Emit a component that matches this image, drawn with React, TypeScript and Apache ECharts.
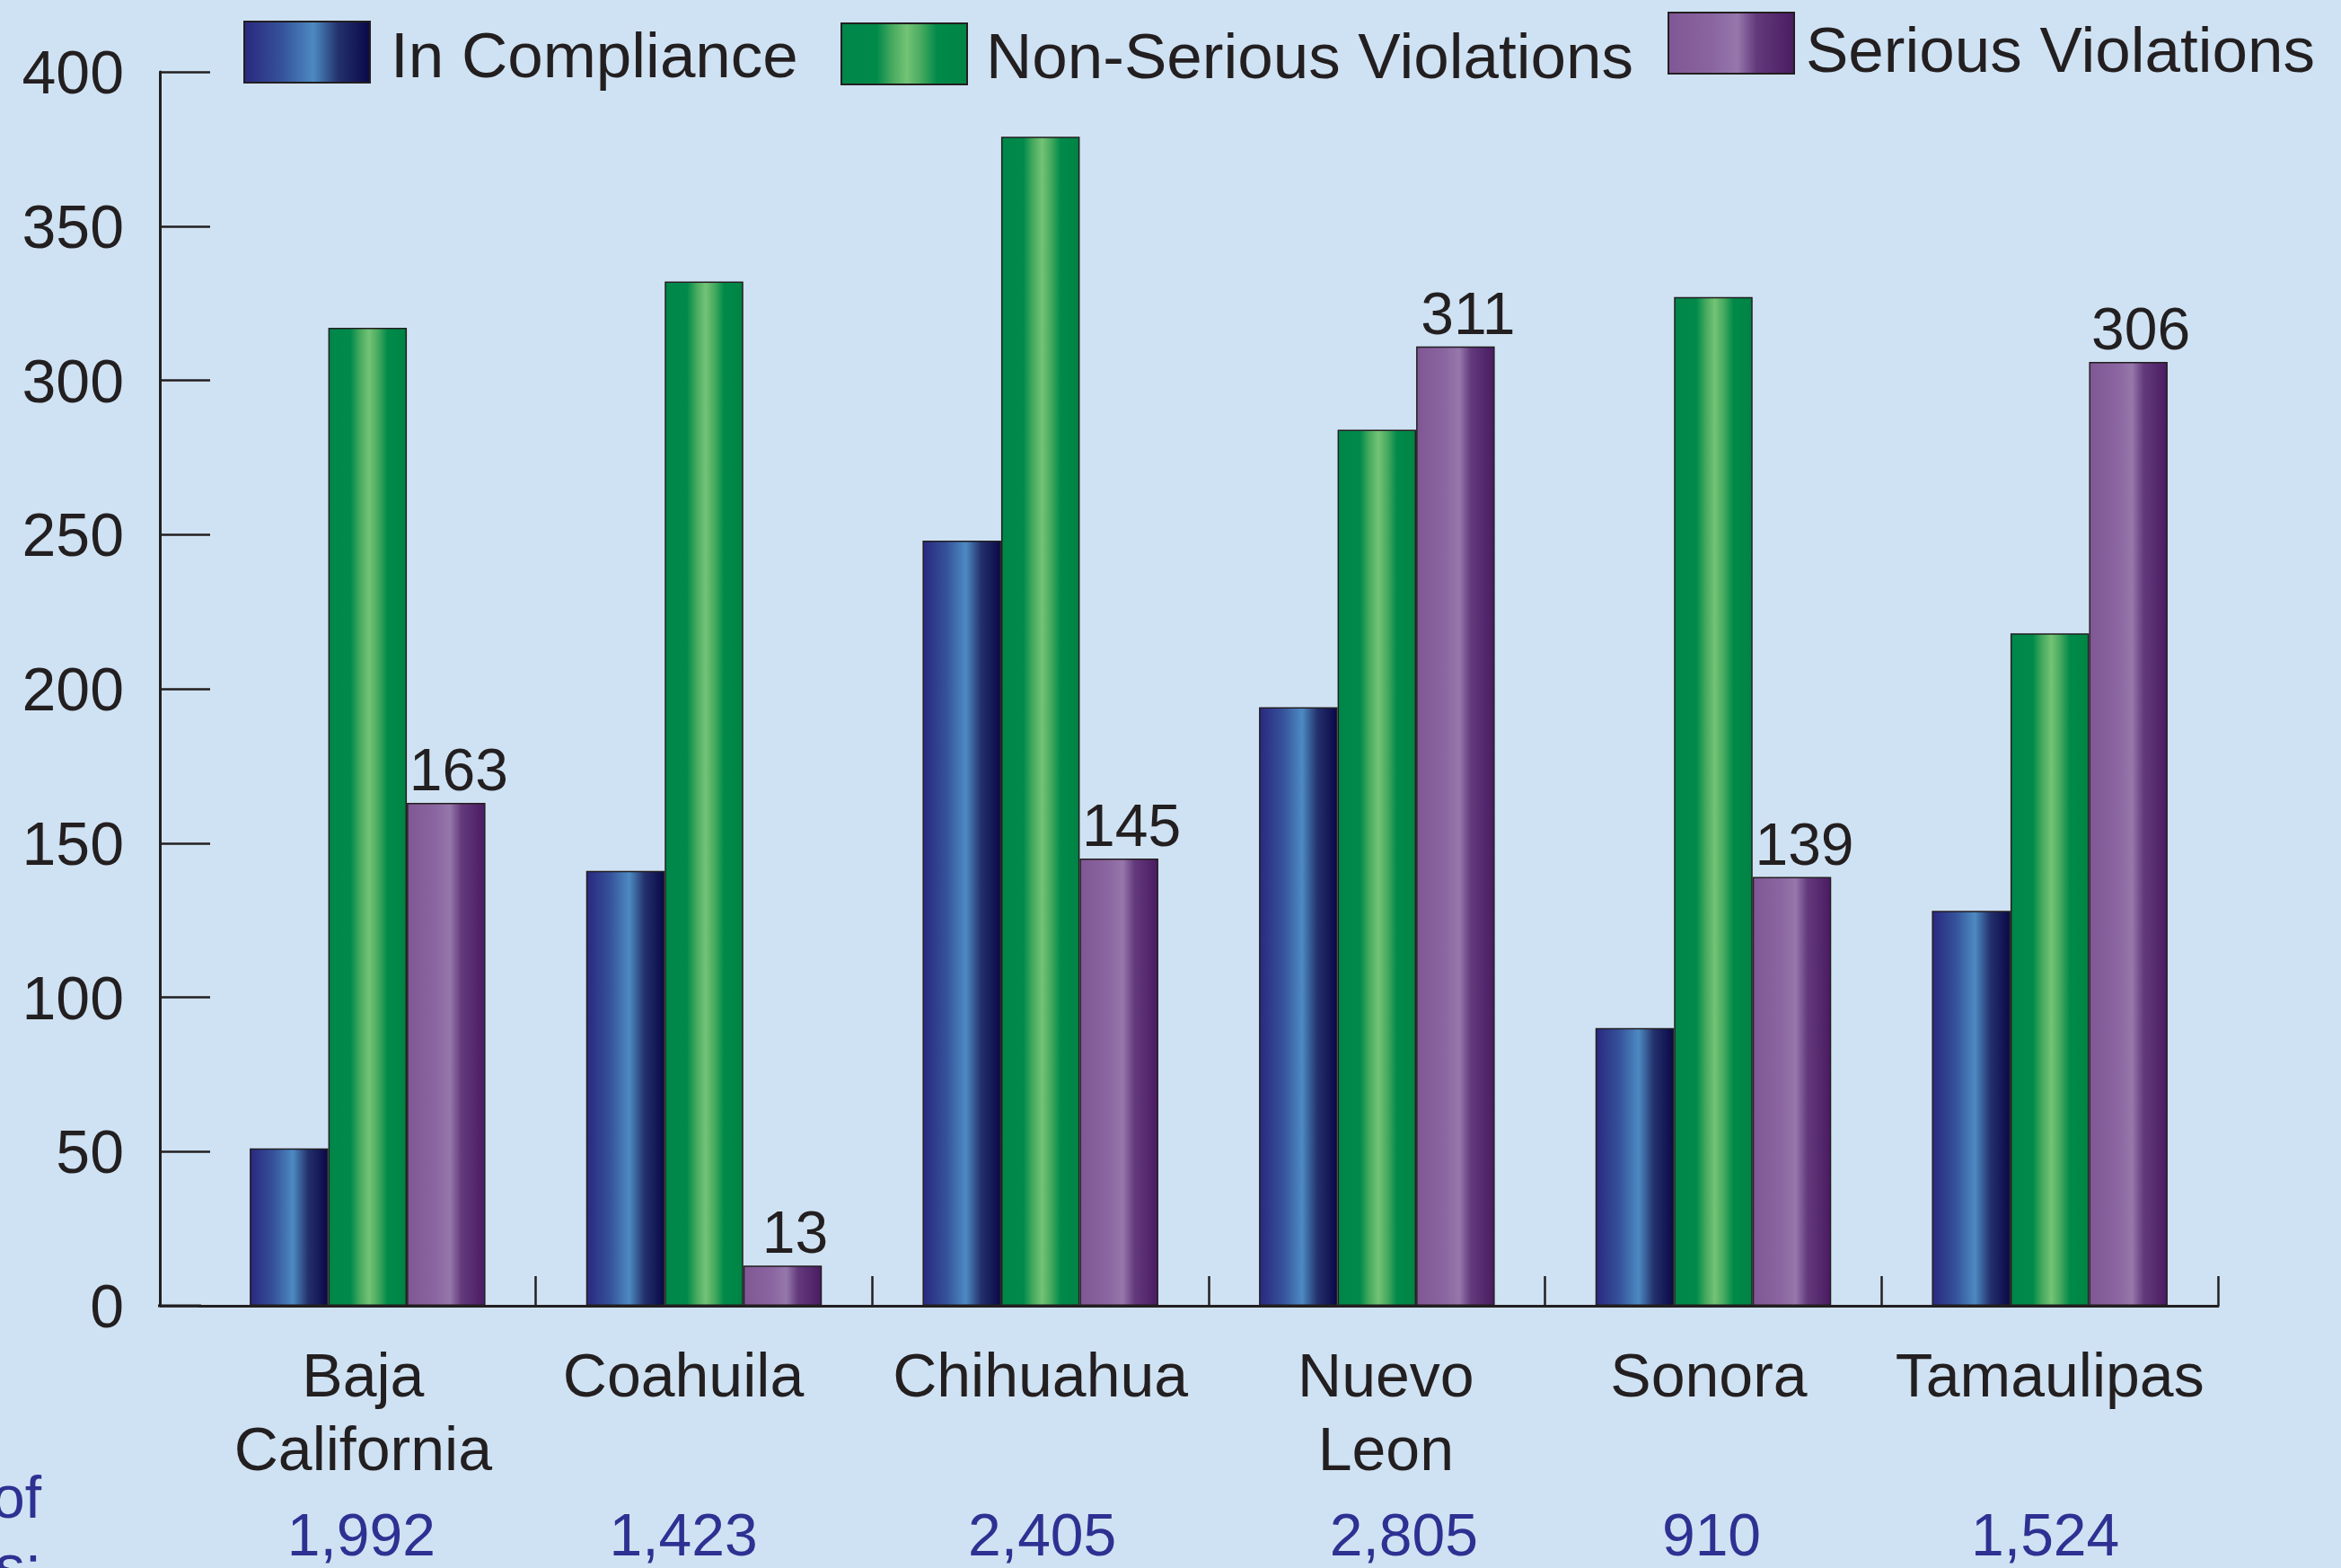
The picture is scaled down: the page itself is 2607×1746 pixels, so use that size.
import React, { useEffect, useRef } from 'react';
import * as echarts from 'echarts';

const categories = ['Baja\nCalifornia', 'Coahuila', 'Chihuahua', 'Nuevo\nLeon', 'Sonora', 'Tamaulipas'];
const inCompliance = [51, 141, 248, 194, 90, 128];
const nonSerious = [317, 332, 379, 284, 327, 218];
const serious = [163, 13, 145, 311, 139, 306];
const inspections = ['1,992', '1,423', '2,405', '2,805', '910', '1,524'];
const seriesNames = ['In Compliance', 'Non-Serious Violations', 'Serious Violations'];
const yMin = 0;
const yMax = 400;
const yInterval = 50;

const FONT = '"Liberation Sans", Arial, Helvetica, sans-serif';
const INK = '#231f20';
const NAVY = '#2e3192';

const W = 2607;
const H = 1746;
const GRID = { left: 222, right: 137, top: 80, bottom: 292 };

// small horizontal nudges of the labels under each category (px)
const catLabelShift = [-5, -23, 0, 10, -5, 0];
const numLabelShift = [-7, -23, 2, 30, -2, -5];

function grad(stops: [number, string][]) {
  return new echarts.graphic.LinearGradient(0, 0, 1, 0, stops.map(([offset, color]) => ({ offset, color })));
}

const blueGrad = () =>
  grad([
    [0, '#2a2880'],
    [0.3, '#35529a'],
    [0.55, '#4d8ac2'],
    [0.75, '#23306c'],
    [1, '#0a0848'],
  ]);
const greenGrad = () =>
  grad([
    [0, '#00864a'],
    [0.28, '#008a4a'],
    [0.4, '#45a95e'],
    [0.52, '#74c376'],
    [0.64, '#45a95e'],
    [0.76, '#008a4a'],
    [1, '#008444'],
  ]);
const purpleGrad = () =>
  grad([
    [0, '#7f5794'],
    [0.35, '#8a65a0'],
    [0.55, '#9677ab'],
    [0.7, '#633a7c'],
    [1, '#4a1b62'],
  ]);

function shiftPadding(s: number) {
  return s < 0 ? [0, -2 * s, 0, 0] : [0, 0, 0, 2 * s];
}

function makeRich(shifts: number[], base: any) {
  const rich: any = {};
  shifts.forEach((s, i) => {
    rich['s' + i] = { ...base, padding: shiftPadding(s) };
  });
  return rich;
}

export default function App() {
  const ref = useRef<HTMLDivElement>(null);

  useEffect(() => {
    document.body.style.margin = '0';
    if (!ref.current) return;
    const chart = echarts.init(ref.current, null, { renderer: 'svg' });
    const baseY = H - GRID.bottom;

    const barCommon = {
      type: 'bar',
      barWidth: 87.5,
      barGap: '0%',
      xAxisIndex: 0,
      yAxisIndex: 0,
    };

    const legendBase = {
      orient: 'horizontal',
      icon: 'rect',
      itemWidth: 140,
      itemHeight: 68,
      padding: 0,
      selectedMode: false,
      formatter: (name: string) => `{t|${name}}`,
    };

    const legendText = (top: number, left: number) => ({
      fontSize: 71,
      color: INK,
      fontFamily: FONT,
      rich: {
        t: {
          fontSize: 71,
          color: INK,
          fontFamily: FONT,
          padding: [top, 0, 0, left],
        },
      },
    });

    const catBase = { fontSize: 68, lineHeight: 82, color: INK, fontFamily: FONT };
    const numBase = { fontSize: 66, lineHeight: 70, color: NAVY, fontFamily: FONT };

    chart.setOption({
      animation: false,
      backgroundColor: '#cfe2f3',
      textStyle: { fontFamily: FONT },
      grid: { ...GRID, containLabel: false },
      legend: [
        {
          ...legendBase,
          data: [seriesNames[0]],
          left: 271,
          top: 23,
          textStyle: legendText(6, 18),
        },
        {
          ...legendBase,
          data: [seriesNames[1]],
          left: 936,
          top: 25,
          textStyle: legendText(4, 16),
        },
        {
          ...legendBase,
          data: [seriesNames[2]],
          left: 1857,
          top: 13,
          textStyle: legendText(14, 8),
        },
      ],
      xAxis: [
        {
          type: 'category',
          data: categories,
          position: 'bottom',
          boundaryGap: true,
          axisLine: { show: true, lineStyle: { color: INK, width: 3 } },
          axisTick: {
            show: true,
            inside: true,
            length: 33,
            interval: (i: number) => i !== 0,
            lineStyle: { color: INK, width: 2.5 },
          },
          axisLabel: {
            interval: 0,
            ...catBase,
            margin: 36,
            formatter: (v: string, i: number) =>
              v
                .split('\n')
                .map((line) => `{s${i}|${line}}`)
                .join('\n'),
            rich: makeRich(catLabelShift, catBase),
          },
          splitLine: { show: false },
        },
        {
          type: 'category',
          data: inspections,
          position: 'bottom',
          boundaryGap: true,
          axisLine: { show: false },
          axisTick: { show: false },
          axisLabel: {
            interval: 0,
            ...numBase,
            margin: 220,
            formatter: (v: string, i: number) => `{s${i}|${v}}`,
            rich: makeRich(numLabelShift, numBase),
          },
          splitLine: { show: false },
        },
      ],
      yAxis: {
        type: 'value',
        min: yMin,
        max: yMax,
        interval: yInterval,
        offset: 44,
        axisLine: { show: true, lineStyle: { color: INK, width: 3 } },
        axisTick: { show: true, inside: true, length: 56, lineStyle: { color: INK, width: 2.5 } },
        axisLabel: {
          fontSize: 68,
          color: INK,
          fontFamily: FONT,
          margin: 40,
          padding: [30, 0, 0, 0],
        },
        splitLine: { show: false },
      },
      series: [
        {
          ...barCommon,
          name: seriesNames[0],
          data: inCompliance,
          itemStyle: { color: blueGrad(), borderColor: INK, borderWidth: 1.5 },
        },
        {
          ...barCommon,
          name: seriesNames[1],
          data: nonSerious,
          itemStyle: { color: greenGrad(), borderColor: INK, borderWidth: 1.5 },
        },
        {
          ...barCommon,
          name: seriesNames[2],
          data: serious,
          itemStyle: { color: purpleGrad(), borderColor: INK, borderWidth: 1.5 },
          label: {
            show: true,
            position: 'top',
            distance: 4,
            offset: [14, 0],
            fontSize: 66,
            color: INK,
            fontFamily: FONT,
          },
        },
      ],
      graphic: [
        {
          type: 'line',
          shape: { x1: GRID.left - 46, y1: baseY, x2: GRID.left + 2, y2: baseY },
          style: { stroke: INK, lineWidth: 3 },
          silent: true,
        },
        {
          type: 'text',
          x: 46,
          y: 1628,
          style: {
            text: 'Number of\nInspections:',
            align: 'right',
            verticalAlign: 'top',
            font: `66px ${FONT}`,
            lineHeight: 77,
            fill: NAVY,
          },
          silent: true,
        },
      ],
    });

    return () => {
      chart.dispose();
    };
  }, []);

  return <div ref={ref} style={{ width: W, height: H }} />;
}
